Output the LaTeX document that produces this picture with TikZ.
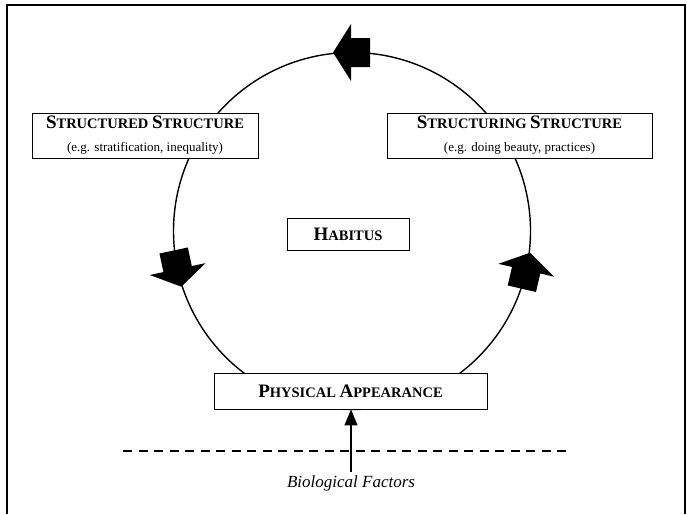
\documentclass[tikz,border=0pt]{standalone}
\usepackage{fontspec}
\setmainfont{Liberation Serif}
\usetikzlibrary{arrows.meta}

% first letter large, the rest in smaller capitals
\newcommand{\capword}[2]{{\fontsize{19}{23}\selectfont #1}{\fontsize{14.5}{23}\selectfont #2}}
\newcommand{\subline}[1]{{\fontsize{13}{23}\selectfont\mdseries #1}}

\tikzset{
  blockarrow/.pic={\fill (-18,-14.5) -- (1,-14.5) -- (1,-28.5) -- (19,0) -- (1,28.5) -- (1,14.5) -- (-18,14.5) -- cycle;}
}

\begin{document}
\begin{tikzpicture}[x=1pt,y=-1pt,every node/.style={align=center},
  box/.style={draw,line width=0.9pt,fill=white,inner sep=0pt,font=\bfseries\fontsize{14.5}{23}\selectfont}]
		\useasboundingbox (0,0) rectangle (687,514);
		\draw[line width=1.3pt] (7,514) -- (7,5) -- (685,5) -- (685,514); % frame
		\draw[line width=1.4pt] (352,231) circle (178.5);
		\pic[rotate=180] at (352,52.5) {blockarrow};
		\pic[rotate=282] at (177.4,268.1) {blockarrow};
		\pic[rotate=77] at (525.9,271.2) {blockarrow};
		\node[box,minimum width=226pt,minimum height=45pt] (structured) at (145,135.5) {\capword{S}{TRUCTURED} \capword{S}{TRUCTURE}\\ \subline{(e.g. stratification, inequality)}};
		\node[box,minimum width=265pt,minimum height=45pt] (structuring) at (519.5,135.5) {\capword{S}{TRUCTURING} \capword{S}{TRUCTURE}\\ \subline{(e.g. doing beauty, practices)}};
		\node[box,minimum width=122pt,minimum height=32pt] (habitus) at (348,234) {\capword{H}{ABITUS}};
		\node[box,minimum width=273pt,minimum height=36pt] (physical) at (350.5,391) {\capword{P}{HYSICAL} \capword{A}{PPEARANCE}};
		\draw[line width=1.8pt,dash pattern=on 9pt off 6.5pt] (123,451) -- (566,451);
		\node[font=\itshape\fontsize{17}{19}\selectfont] (bio) at (351,483) {Biological Factors};
		\draw[line width=1.2pt,-{Triangle[length=16pt,width=13pt]}] (bio.north) -- (bio.north |- physical.south);
	\end{tikzpicture}
\end{document}
